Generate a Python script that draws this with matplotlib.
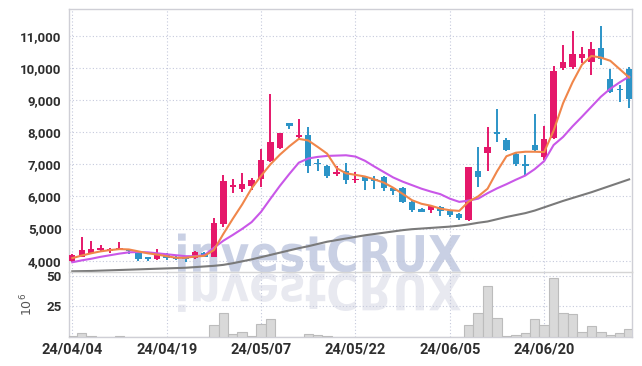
import matplotlib
matplotlib.use("Agg")
import matplotlib.pyplot as plt
from matplotlib.textpath import TextPath
from matplotlib.patches import PathPatch
from matplotlib.font_manager import FontProperties
from matplotlib.transforms import Affine2D
from matplotlib.ticker import FuncFormatter

# daily candles, 24/04/04 .. 24/07/03
dates = ["24/04/04", "24/04/05", "24/04/08", "24/04/09", "24/04/11", "24/04/12", "24/04/15", "24/04/16",
         "24/04/17", "24/04/18", "24/04/19", "24/04/22", "24/04/23", "24/04/24", "24/04/25", "24/04/26",
         "24/04/29", "24/04/30", "24/05/02", "24/05/03", "24/05/07", "24/05/08", "24/05/09", "24/05/10",
         "24/05/13", "24/05/14", "24/05/16", "24/05/17", "24/05/20", "24/05/21", "24/05/22", "24/05/23",
         "24/05/24", "24/05/27", "24/05/28", "24/05/29", "24/05/30", "24/05/31", "24/06/03", "24/06/04",
         "24/06/05", "24/06/07", "24/06/10", "24/06/11", "24/06/12", "24/06/13", "24/06/14", "24/06/17",
         "24/06/18", "24/06/19", "24/06/20", "24/06/21", "24/06/24", "24/06/25", "24/06/26", "24/06/27",
         "24/06/28", "24/07/01", "24/07/02", "24/07/03"]

opens = [3980, 4120, 4250, 4330, 4310, 4340, 4310, 4260, 4070, 4040, 4180, 4120, 4080, 4070, 4230,
         4125, 5150, 6280, 6240, 6330, 6550, 7100, 7520, 8270, 7840, 7900, 7050, 6960, 6700, 6780,
         6500, 6610, 6500, 6610, 6270, 6260, 5830, 5620, 5580, 5670, 5550, 5450, 5270, 6780, 7360,
         7960, 7770, 7330, 6960, 7610, 7230, 7820, 10010, 10030, 10300, 10170, 10620, 9650, 9330, 9960]
highs = [4200, 4730, 4620, 4490, 4410, 4570, 4340, 4280, 4120, 4360, 4230, 4140, 4100, 4290, 4260,
         5325, 6660, 6550, 6730, 6575, 7480, 9200, 7980, 8280, 8420, 8160, 7170, 6990, 6940, 7040,
         6750, 6640, 6620, 6630, 6290, 6280, 5850, 5640, 5720, 5700, 5580, 5480, 6930, 7540, 8170,
         8730, 7830, 7350, 7280, 8550, 8190, 10060, 10710, 11140, 10660, 10790, 11290, 9960, 9460, 10020]
lows = [3950, 4100, 4230, 4280, 4250, 4320, 4200, 3990, 3990, 4030, 4010, 4020, 3950, 4060, 4100,
        4100, 5060, 6100, 6130, 6210, 6300, 7060, 7490, 8100, 7800, 6730, 6780, 6560, 6650, 6390,
        6420, 6190, 6240, 6160, 6040, 5790, 5500, 5500, 5480, 5400, 5360, 5270, 5250, 6290, 6800,
        7690, 7420, 6940, 6620, 7400, 7120, 7780, 9940, 9960, 10140, 9770, 10080, 9230, 8940, 8760]
closes = [4170, 4340, 4370, 4360, 4330, 4370, 4290, 4040, 4050, 4240, 4070, 4040, 4060, 4280, 4110,
          5170, 6490, 6360, 6400, 6500, 7120, 7690, 7960, 8190, 7900, 6940, 7000, 6620, 6740, 6500,
          6550, 6470, 6480, 6250, 6180, 5840, 5590, 5530, 5700, 5560, 5430, 5330, 6920, 6590, 7540,
          7940, 7440, 7010, 6940, 7430, 7790, 9910, 10190, 10430, 10430, 10590, 10290, 9250, 9300, 9020]

ma5 = [4080, 4160, 4230, 4290, 4330, 4360, 4350, 4290, 4230, 4190, 4140, 4090, 4090, 4130, 4150,
       4330, 4830, 5300, 5750, 6250, 6640, 7000, 7300, 7560, 7790, 7740, 7540, 7330, 6880, 6720,
       6670, 6620, 6530, 6430, 6270, 6080, 5880, 5770, 5710, 5620, 5570, 5550, 5840, 6000, 6240,
       6780, 7250, 7360, 7390, 7390, 7380, 8050, 8900, 9550, 10100, 10370, 10320, 10220, 9960, 9700]
ma20 = [3950, 4010, 4060, 4120, 4170, 4220, 4260, 4270, 4260, 4230, 4200, 4170, 4140, 4140, 4170,
        4400, 4620, 4800, 4990, 5200, 5520, 5930, 6330, 6700, 7050, 7180, 7230, 7260, 7270, 7280,
        7240, 7110, 6930, 6760, 6590, 6460, 6350, 6240, 6150, 6070, 5930, 5830, 5870, 5930, 6100,
        6250, 6380, 6520, 6650, 6850, 7100, 7600, 7850, 8180, 8480, 8790, 9100, 9350, 9550, 9730]
ma60 = [3670, 3675, 3680, 3690, 3700, 3710, 3720, 3730, 3740, 3750, 3760, 3770, 3780, 3800, 3820,
        3840, 3870, 3920, 3980, 4040, 4110, 4180, 4250, 4320, 4390, 4450, 4520, 4590, 4640, 4690,
        4740, 4790, 4830, 4870, 4910, 4950, 4980, 5000, 5020, 5040, 5060, 5090, 5130, 5180, 5220,
        5290, 5360, 5420, 5480, 5560, 5660, 5760, 5860, 5950, 6040, 6130, 6230, 6330, 6430, 6530]

# volume in millions
volume = [0.6, 3.5, 1.1, 0.3, 0.3, 0.7, 0.2, 0.2, 0.2, 0.2, 0.2, 0.2, 0.2, 0.2, 0.3,
          9.5, 19.2, 2.8, 3.7, 1.2, 11.0, 15.1, 0.4, 0.3, 0.3, 2.8, 1.3, 0.5, 0.3, 0.3,
          0.3, 0.3, 0.3, 0.3, 0.3, 0.3, 0.3, 0.3, 0.3, 0.3, 0.3, 0.3, 9.4, 20.0, 41.5,
          15.8, 1.2, 1.3, 3.5, 15.0, 10.1, 47.8, 20.0, 18.5, 4.3, 8.6, 4.2, 2.0, 3.5, 6.2]

price_ticks = [4000, 5000, 6000, 7000, 8000, 9000, 10000, 11000]
vol_ticks = [25, 50]
date_ticks = [0, 10, 20, 30, 40, 50]

RED = "#e5186a"
BLUE = "#2c94c7"
GRID = "#c5c9dc"
SPINE = "#cfcfd6"
TXT = "#2e2e2e"
label_font = ["Liberation Sans Narrow", "Roboto", "DejaVu Sans"]

fig = plt.figure(figsize=(6.42, 3.66), dpi=100)
ax = fig.add_axes([0.1067, 0.2577, 0.8777, 0.7177])
axv = fig.add_axes([0.1067, 0.0792, 0.8777, 0.1784], sharex=ax)
for a in (ax, axv):
    a.set_facecolor("none")

# watermark with reflection
wm_prop = FontProperties(family="DejaVu Sans", weight="bold")
wm = TextPath((0, 0), "investCRUX", prop=wm_prop, size=1)
ext = wm.get_extents()
cap = TextPath((0, 0), "C", prop=wm_prop, size=1).get_extents().height
sx = (461 - 178) / ext.width
sy = 38 / cap
base = 366 - 271.7
t_up = Affine2D().translate(-ext.x0, 0).scale(sx, sy).translate(178, base)
t_dn = Affine2D().translate(-ext.x0, 0).scale(sx, -sy).translate(178, base - 2)
fig.add_artist(PathPatch(wm, transform=t_up, facecolor="#c9d0e4", edgecolor="none", zorder=-2))
fig.add_artist(PathPatch(wm, transform=t_dn, facecolor="#e8e9f0", edgecolor="none", zorder=-2))

x = list(range(len(dates)))

# candles
for i in x:
    up = closes[i] >= opens[i]
    col = RED if up else BLUE
    ax.vlines(i, lows[i], highs[i], color=col, lw=1.4, zorder=3)
    lo = min(opens[i], closes[i])
    h = max(abs(closes[i] - opens[i]), 55)
    ax.bar(i, h, bottom=lo, width=0.68, color=col, zorder=4)

ax.plot(x, ma60, color="#7a7a7a", lw=1.5, zorder=5)
ax.plot(x, ma20, color="#c957e8", lw=1.5, zorder=5)
ax.plot(x, ma5, color="#f0864a", lw=1.5, zorder=5)

ax.set_ylim(3658, 11831)
ax.set_xlim(-0.4, 59.3)
ax.set_yticks(price_ticks)
ax.yaxis.set_major_formatter(FuncFormatter(lambda v, p: f"{int(v):,}"))

axv.bar(x, volume, width=1.0, color="#d9d9d9", edgecolor="#bcbcbc", lw=0.8, zorder=3)
axv.set_ylim(0, 53.3)
axv.set_yticks(vol_ticks)
axv.set_xticks(date_ticks)
axv.set_xticklabels([dates[i] for i in date_ticks])
axv.set_ylabel("$10^6$", color="#555555", fontsize=9, labelpad=8)

for a in (ax, axv):
    a.grid(True, color=GRID, ls=(0, (1, 2)), lw=0.8, zorder=0)
    a.tick_params(length=0, colors=TXT)
    for s in a.spines.values():
        s.set_color(SPINE)
        s.set_linewidth(1.0)

plt.setp(ax.get_xticklabels(), visible=False)
ax.spines["bottom"].set_visible(False)
axv.spines["top"].set_color("#d5d5d5")
ax.tick_params(axis="y", pad=5)
axv.tick_params(axis="y", pad=5)
axv.tick_params(axis="x", pad=4)

for lab in ax.get_yticklabels():
    lab.set_family(label_font)
    lab.set_weight("bold")
    lab.set_fontsize(9.5)
for lab in axv.get_yticklabels():
    lab.set_family(label_font)
    lab.set_weight("bold")
    lab.set_fontsize(9.5)
for lab in axv.get_xticklabels():
    lab.set_family(label_font)
    lab.set_weight("bold")
    lab.set_fontsize(10.5)

fig.savefig("out.png", dpi=100)
